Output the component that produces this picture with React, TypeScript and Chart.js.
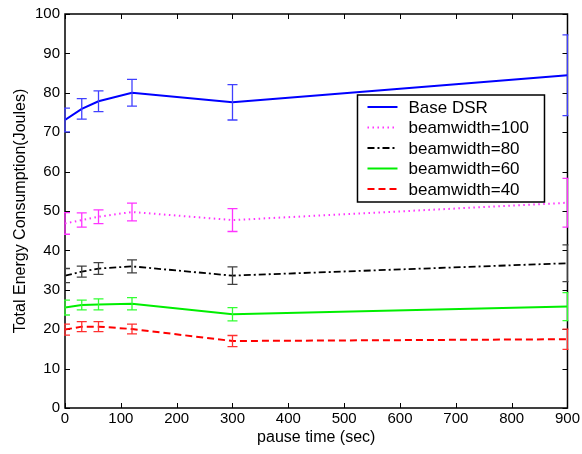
import React, { useEffect, useRef } from "react";
import { Chart, registerables } from "chart.js";

Chart.register(...registerables);

const pauseTimes = [0, 30, 60, 120, 300, 900];

const seriesNames = ["Base DSR", "beamwidth=100", "beamwidth=80", "beamwidth=60", "beamwidth=40"];

const baseDSR = [73.1, 75.9, 77.85, 80.0, 77.6, 84.45];
const baseDSRErr = [3.0, 2.6, 2.65, 3.4, 4.5, 10.25];

const bw100 = [46.85, 47.7, 48.55, 49.75, 47.7, 52.1];
const bw100Err = [2.75, 1.8, 1.75, 2.25, 2.9, 6.2];

const bw80 = [33.6, 34.6, 35.4, 35.95, 33.6, 36.75];
const bw80Err = [1.8, 1.4, 1.5, 1.65, 2.2, 4.65];

const bw60 = [25.5, 26.15, 26.3, 26.45, 23.8, 25.75];
const bw60Err = [1.9, 1.25, 1.4, 1.55, 1.7, 3.55];

const bw40 = [19.9, 20.65, 20.65, 20.05, 17.0, 17.45];
const bw40Err = [1.4, 1.25, 1.25, 1.25, 1.4, 2.55];

const FONT = "'Liberation Sans', Arial, Helvetica, sans-serif";

const styles = [
  { color: "#0000ff", err: "#4040ff", dash: [] as number[], width: 2 },
  { color: "#ff33ff", err: "#ff33ff", dash: [1.5, 3.5], width: 2 },
  { color: "#000000", err: "#404040", dash: [7, 3, 2, 3], width: 1.8 },
  { color: "#00ee00", err: "#33ff33", dash: [] as number[], width: 2 },
  { color: "#ff0000", err: "#ff3030", dash: [7, 4], width: 2 },
];

const values = [baseDSR, bw100, bw80, bw60, bw40];
const errors = [baseDSRErr, bw100Err, bw80Err, bw60Err, bw40Err];

const framePlugin = {
  id: "frameAndErrors",
  beforeDatasetsDraw(chart: any) {
    const { ctx, chartArea: a, scales } = chart;
    ctx.save();
    ctx.strokeStyle = "#000";
    ctx.lineWidth = 1.5;
    ctx.strokeRect(a.left, a.top, a.right - a.left, a.bottom - a.top);
    ctx.lineWidth = 1;
    const tl = 5;
    ctx.beginPath();
    scales.y.ticks.forEach((t: any) => {
      const y = Math.round(scales.y.getPixelForValue(t.value)) + 0.5;
      ctx.moveTo(a.left, y);
      ctx.lineTo(a.left + tl, y);
      ctx.moveTo(a.right, y);
      ctx.lineTo(a.right - tl, y);
    });
    scales.x.ticks.forEach((t: any) => {
      const x = Math.round(scales.x.getPixelForValue(t.value)) + 0.5;
      ctx.moveTo(x, a.bottom);
      ctx.lineTo(x, a.bottom - tl);
      ctx.moveTo(x, a.top);
      ctx.lineTo(x, a.top + tl);
    });
    ctx.stroke();
    ctx.restore();
  },
  afterDatasetsDraw(chart: any) {
    const { ctx, chartArea: a, scales } = chart;
    ctx.save();
    ctx.beginPath();
    ctx.rect(a.left - 1, a.top - 1, a.right - a.left + 2, a.bottom - a.top + 2);
    ctx.clip();
    ctx.lineWidth = 1.3;
    values.forEach((vals, i) => {
      ctx.strokeStyle = styles[i].err;
      ctx.setLineDash([]);
      ctx.beginPath();
      vals.forEach((v, j) => {
        const x = scales.x.getPixelForValue(pauseTimes[j]);
        const yt = scales.y.getPixelForValue(v + errors[i][j]);
        const yb = scales.y.getPixelForValue(v - errors[i][j]);
        ctx.moveTo(x, yt);
        ctx.lineTo(x, yb);
        ctx.moveTo(x - 5, yt);
        ctx.lineTo(x + 5, yt);
        ctx.moveTo(x - 5, yb);
        ctx.lineTo(x + 5, yb);
      });
      ctx.stroke();
    });
    ctx.restore();
  },
  afterDraw(chart: any) {
    const { ctx, chartArea: a } = chart;
    const boxRight = a.right - 23;
    const boxLeft = boxRight - 187;
    const boxTop = a.top + 81;
    const boxH = 107;
    ctx.save();
    ctx.fillStyle = "#fff";
    ctx.fillRect(boxLeft, boxTop, boxRight - boxLeft, boxH);
    ctx.strokeStyle = "#000";
    ctx.lineWidth = 1.5;
    ctx.strokeRect(boxLeft, boxTop, boxRight - boxLeft, boxH);
    ctx.font = `17px ${FONT}`;
    ctx.textBaseline = "middle";
    ctx.textAlign = "left";
    seriesNames.forEach((name, i) => {
      const y = boxTop + 12 + i * 20.5;
      ctx.strokeStyle = styles[i].color;
      ctx.lineWidth = styles[i].width;
      ctx.setLineDash(styles[i].dash);
      ctx.beginPath();
      ctx.moveTo(boxLeft + 10, y);
      ctx.lineTo(boxLeft + 40, y);
      ctx.stroke();
      ctx.setLineDash([]);
      ctx.fillStyle = "#000";
      ctx.fillText(name, boxLeft + 51, y + 1);
    });
    ctx.restore();
  },
};

export default function App() {
  const ref = useRef<HTMLCanvasElement>(null);
  useEffect(() => {
    if (!ref.current) return;
    const chart = new Chart(ref.current, {
      type: "line",
      data: {
        datasets: seriesNames.map((name, i) => ({
          label: name,
          data: values[i].map((v, j) => ({ x: pauseTimes[j], y: v })),
          borderColor: styles[i].color,
          backgroundColor: styles[i].color,
          borderWidth: styles[i].width,
          borderDash: styles[i].dash,
          pointRadius: 0,
          tension: 0,
          fill: false,
        })),
      },
      options: {
        animation: false,
        responsive: false,
        maintainAspectRatio: false,
        layout: { padding: { top: 14, right: 13, left: 0, bottom: 0 } },
        plugins: { legend: { display: false }, tooltip: { enabled: false } },
        scales: {
          x: {
            type: "linear",
            min: 0,
            max: 900,
            ticks: { stepSize: 100, color: "#000", font: { family: FONT, size: 15 }, padding: 2, maxRotation: 0 },
            grid: { display: false, drawTicks: false },
            border: { display: false },
            title: { display: true, text: "pause time (sec)", color: "#000", font: { family: FONT, size: 16 }, padding: { top: 0, bottom: 7 } },
            afterFit: (s: any) => { s.height = 46; },
          },
          y: {
            type: "linear",
            min: 0,
            max: 100,
            ticks: { stepSize: 10, color: "#000", font: { family: FONT, size: 15 }, padding: 5 },
            grid: { display: false, drawTicks: false },
            border: { display: false },
            title: { display: true, text: "Total Energy Consumption(Joules)", color: "#000", font: { family: FONT, size: 16 }, padding: { top: 11, bottom: 0 } },
            afterFit: (s: any) => { s.width = 65; },
          },
        },
      },
      plugins: [framePlugin],
    });
    return () => chart.destroy();
  }, []);
  return (
    <div style={{ position: "absolute", left: 0, top: 0, width: 582, height: 454, background: "#fff" }}>
      <canvas ref={ref} width={582} height={454} style={{ display: "block" }} />
    </div>
  );
}
